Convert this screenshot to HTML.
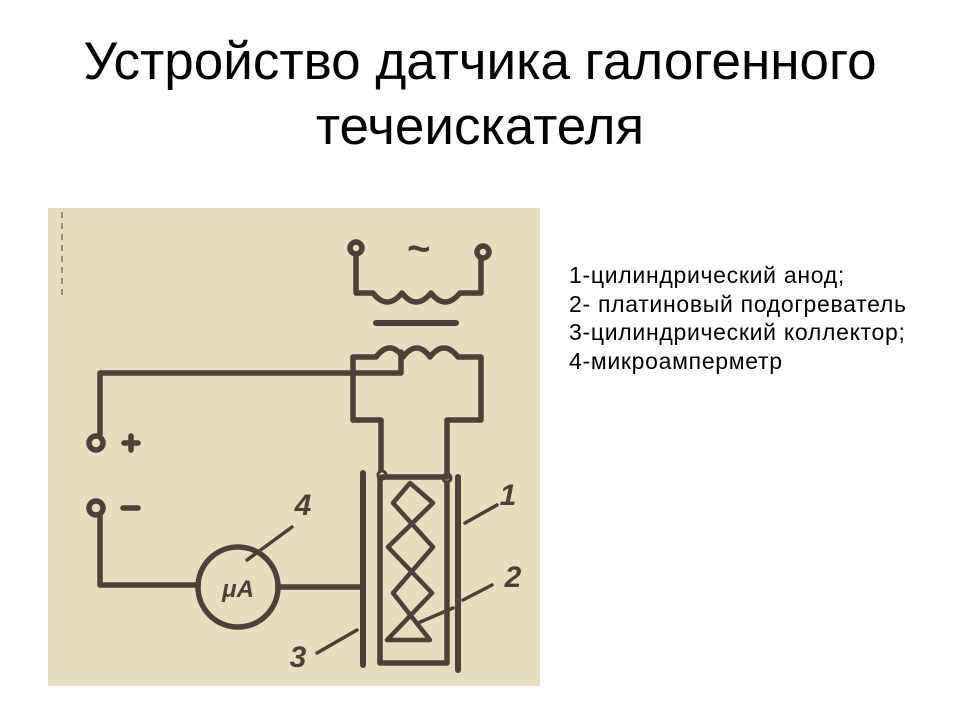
<!DOCTYPE html>
<html><head><meta charset="utf-8"><style>
html,body{margin:0;padding:0;background:#fff;}
body{width:960px;height:720px;position:relative;overflow:hidden;font-family:"Liberation Sans","DejaVu Sans",sans-serif;}
.t{position:absolute;left:0;width:960px;text-align:center;font-size:53px;color:#000;line-height:1;}
.l{position:absolute;left:569px;top:261px;font-size:23px;letter-spacing:0.7px;line-height:28.5px;color:#000;white-space:nowrap;}
svg{position:absolute;left:0;top:0;}
</style></head><body>
<div class="t" style="top:35px">Устройство датчика галогенного</div>
<div class="t" style="top:100px">течеискателя</div>
<div class="l">1-цилиндрический анод;<br>2- платиновый подогреватель<br>3-цилиндрический коллектор;<br>4-микроамперметр</div>
<svg width="960" height="720" viewBox="0 0 960 720">
<rect x="48" y="208" width="492" height="478" fill="#e8ddbf"/>
<line x1="62" y1="212" x2="62" y2="300" stroke="#7a6e5c" stroke-width="1.5" stroke-dasharray="6 5"/>
<g fill="none" stroke="#4a4237" stroke-width="5.5" stroke-linejoin="round" stroke-linecap="round">
<circle cx="356" cy="248" r="6"/>
<circle cx="483" cy="252" r="6"/>
<path d="M356 255 V293 H373 q14 18 29 0 q14 18 29 0 q14 18 29 0 H481 V258"/>
<path d="M376 323 H456" stroke-width="6"/>
<path d="M353 420 V357 H376 q14 -18 27 0 q14 -18 27 0 q14 -18 28 0 H481 V420 H447 V475"/>
<path d="M353 420 H381 V472"/>
<path d="M100 436 V373 H401 V352"/>
<circle cx="96" cy="443" r="7"/>
<path d="M124 443 H138 M131 436 V450"/>
<circle cx="96" cy="508" r="7"/>
<path d="M123 508 H138"/>
<path d="M100 515 V585 H198"/>
<circle cx="238" cy="587" r="40"/>
<path d="M278 587 H363"/>
<path d="M363 473 V665" stroke-width="6"/>
<path d="M458 477 V670" stroke-width="6"/>
<path d="M380 478 V663 H447 V481"/>
<circle cx="382" cy="475" r="4" fill="#e8ddbf" stroke-width="3"/>
<circle cx="447" cy="478" r="4" fill="#e8ddbf" stroke-width="3"/>
<path d="M382 477 H447"/>
<path d="M410 483 L393 503 L433 547 L393 593 L430 640 H387 L432 593 L388 547 L433 503 Z" stroke-width="4.5"/>
<path d="M292 527 L247 560 M497 505 L465 523 M492 585 L463 600 M453 608 L418 623 M317 653 L357 630" stroke-width="3.5"/>
</g>
<g fill="#4a4237" font-family="Liberation Sans, sans-serif" font-weight="bold" font-style="italic">
<text x="418" y="262" font-size="40" text-anchor="middle">~</text>
<text x="238" y="597" font-size="24" text-anchor="middle">μA</text>
<text x="303" y="515" font-size="30" text-anchor="middle">4</text>
<text x="508" y="505" font-size="30" text-anchor="middle">1</text>
<text x="513" y="587" font-size="30" text-anchor="middle">2</text>
<text x="298" y="667" font-size="30" text-anchor="middle">3</text>
</g>
</svg>
</body></html>
